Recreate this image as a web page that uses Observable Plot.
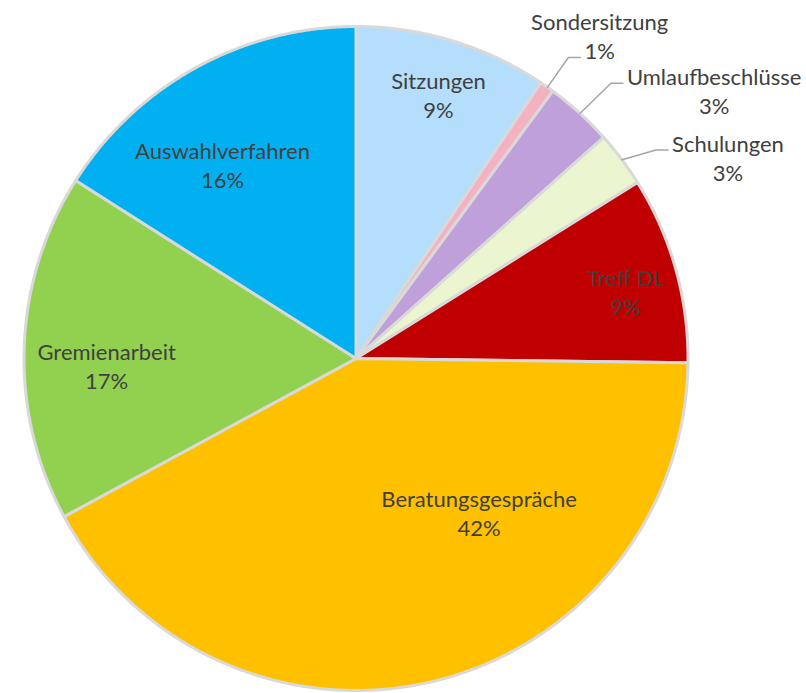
<!DOCTYPE html>
<html>
<head>
<meta charset="utf-8">
<script src="https://cdn.jsdelivr.net/npm/d3@7"></script>
<script src="https://cdn.jsdelivr.net/npm/@observablehq/plot@0.6"></script>
<style>
  html, body { margin: 0; padding: 0; background: #ffffff; }
  #chart svg { display: block; }
</style>
</head>
<body>
<div id="chart"></div>
<script>
// ---- data ----
const categories = ["Sitzungen", "Sondersitzung", "Umlaufbeschlüsse", "Schulungen", "Treff DL", "Beratungsgespräche", "Gremienarbeit", "Auswahlverfahren"];
const shares = [9.4, 0.7, 3.3, 2.7, 9.1, 41.9, 16.9, 16.0];
const sliceColors = ["#B4DEFC", "#F4B1C1", "#BFA0DA", "#EBF5D0", "#C00000", "#FFC000", "#92D050", "#00B0F0"];

// ---- layout config ----
const W = 806, H = 693;
const CX = 356, CY = 358.5, R = 332;
const FONT = "Lato, 'Open Sans', sans-serif";
const FS = 22;          // font size px
const LINE = 29;        // line spacing px
const TEXT = "#404040";
// inside labels: radius factor and angle shift (deg) from slice mid-angle
const insideLayout = new Map([
  ["Sitzungen", {r: 0.83, shift: 0.4}],
  ["Treff DL", {r: 0.835, shift: 1.8}],
  ["Beratungsgespräche", {r: 0.595, shift: -24.5}],
  ["Gremienarbeit", {r: 0.753, shift: -3.7}],
  ["Auswahlverfahren", {r: 0.709, shift: -5.9}]
]);
// outside labels with elbow leader lines: which text line the leader points at
const outsideLayout = new Map([
  ["Sondersitzung", {elbow: 1.11, shift: 0, anchorLine: 2}],
  ["Umlaufbeschlüsse", {elbow: 1.13, shift: 0.4, anchorLine: 1}],
  ["Schulungen", {elbow: 1.10, shift: 2.0, anchorLine: 1}]
]);

// ---- build geometry from data ----
const table = categories.map((c, i) => ({cat: c, share: shares[i], color: sliceColors[i]}));
const total = d3.sum(shares);
const arcs = d3.pie().sort(null).value(d => d.share)(table);

const ctx = document.createElement("canvas").getContext("2d");
ctx.font = `${FS}px ${FONT}`;
const textWidth = s => ctx.measureText(s).width;

const wedgePts = [];
const leaderPts = [];
const labels = [];
const deg = Math.PI / 180;

for (const a of arcs) {
  const d = a.data;
  const n = Math.max(2, Math.ceil((a.endAngle - a.startAngle) / 0.004));
  for (let k = 0; k <= n; k++) {
    const t = a.startAngle + (a.endAngle - a.startAngle) * k / n;
    wedgePts.push({cat: d.cat, color: d.color, x1: Math.sin(t), y1: Math.cos(t), x2: 0, y2: 0});
  }
  const mid = (a.startAngle + a.endAngle) / 2;
  const pct = Math.round(d.share / total * 100) + "%";
  const text = d.cat + "\n" + pct;
  if (insideLayout.has(d.cat)) {
    const L = insideLayout.get(d.cat);
    const t = mid + L.shift * deg;
    labels.push({text, x: L.r * Math.sin(t), y: L.r * Math.cos(t) + 1.5 / R});
  } else if (outsideLayout.has(d.cat)) {
    const L = outsideLayout.get(d.cat);
    const t = mid + L.shift * deg;
    const sx = Math.sin(mid), sy = Math.cos(mid);
    const ex = L.elbow * Math.sin(t), ey = L.elbow * Math.cos(t);
    const endX = ex + 12 / R;
    leaderPts.push({cat: d.cat, x: sx, y: sy});
    leaderPts.push({cat: d.cat, x: ex, y: ey});
    leaderPts.push({cat: d.cat, x: endX, y: ey});
    const lineText = L.anchorLine === 1 ? d.cat : pct;
    const cxl = endX + (4 + textWidth(lineText) / 2) / R;
    const lineCenter = ey + 7.5 / R;
    const by = L.anchorLine === 1 ? lineCenter - (LINE / 2) / R : lineCenter + (LINE / 2) / R;
    labels.push({text, x: cxl, y: by});
  }
}

const chart = Plot.plot({
  width: W,
  height: H,
  margin: 0,
  x: {domain: [-1, 1], range: [CX - R, CX + R], axis: null},
  y: {domain: [-1, 1], range: [CY + R, CY - R], axis: null},
  color: {type: "identity"},
  style: {fontFamily: FONT, fontSize: FS + "px", background: "#ffffff", color: TEXT},
  marks: [
    Plot.area(wedgePts, {x1: "x1", y1: "y1", x2: "x2", y2: "y2", z: "cat", fill: "color",
      stroke: "#D9D9D9", strokeWidth: 3, strokeLinejoin: "round"}),
    Plot.line(leaderPts, {x: "x", y: "y", z: "cat", stroke: "#A6A6A6", strokeWidth: 1.5}),
    Plot.text(labels, {x: "x", y: "y", text: "text", textAnchor: "middle", lineAnchor: "middle",
      lineHeight: LINE / FS, fill: TEXT, fontSize: FS, fontFamily: FONT})
  ]
});
document.getElementById("chart").appendChild(chart);
</script>
</body>
</html>
